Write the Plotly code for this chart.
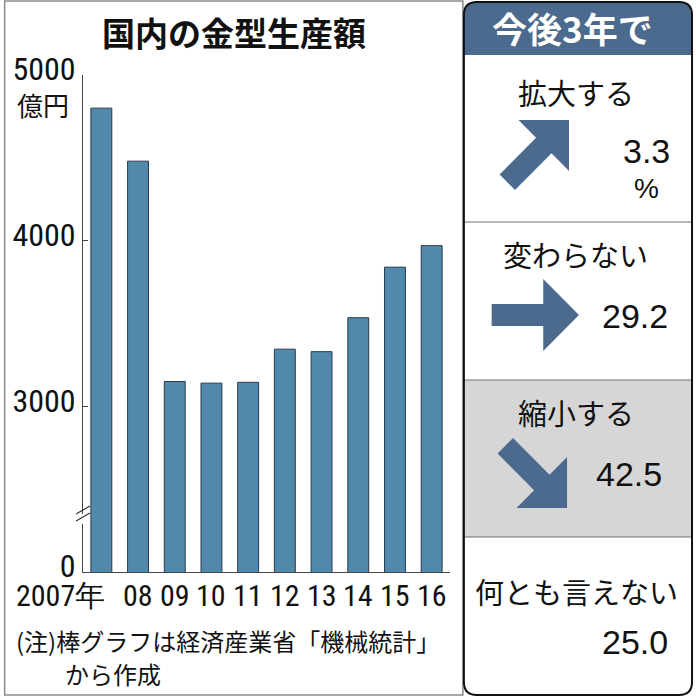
import math
import plotly.graph_objects as go

# ---- data ----
years = ["2007年", "08", "09", "10", "11", "12", "13", "14", "15", "16"]
values = [4800, 4480, 3150, 3140, 3145, 3345, 3330, 3535, 3840, 3970]
y_tickvals = [2000, 3000, 4000, 5000]
y_ticktext = ["0", "3000", "4000", "5000"]

survey_labels = ["拡大する", "変わらない", "縮小する", "何とも言えない"]
survey_values = ["3.3", "29.2", "42.5", "25.0"]

title_left = "国内の金型生産額"
title_right = "今後3年で"
unit_label = "億円"
note_lines = ["(注)棒グラフは経済産業省「機械統計」", "から作成"]

# ---- layout helpers (pixel -> paper) ----
W, H = 696, 697
L, R, T, B = 80, 450, 75, 572


def px(x):
    return (x - L) / (R - L)


def py(y):
    return (B - y) / (B - T)


def P(x, y):
    return f"{px(x):.5f},{py(y):.5f}"


CJK = "Noto Sans CJK JP, Noto Sans CJK SC, sans-serif"
NUM = "Liberation Sans, Arial, sans-serif"
NARROW = "Liberation Sans Narrow, Arial Narrow, Roboto Condensed, Liberation Sans, sans-serif"
BLUE = "#4b6a8d"

fig = go.Figure()
fig.add_trace(go.Bar(
    x=list(range(len(years))), y=values,
    marker=dict(color="#5189ad", line=dict(color="#2a3b4c", width=1)),
    width=0.57,
    hoverinfo="skip",
))

shapes = []
annotations = []

# left panel frame
shapes.append(dict(type="rect", xref="paper", yref="paper",
                   x0=px(1), x1=px(463), y0=py(1), y1=py(695),
                   line=dict(color="#8a8a8a", width=1.5), fillcolor="rgba(0,0,0,0)", layer="below"))

# axis break mark
shapes.append(dict(type="rect", xref="paper", yref="y", x0=px(76), x1=px(84), y0=2290, y1=2350,
                   line=dict(width=0), fillcolor="white", layer="above"))
for dy in (0, 7):
    shapes.append(dict(type="line", xref="paper", yref="paper",
                       x0=px(73), y0=py(514 + dy), x1=px(87), y1=py(506 + dy),
                       line=dict(color="#333", width=1.2)))

# right panel: gray section
shapes.append(dict(type="rect", xref="paper", yref="paper",
                   x0=px(464), x1=px(693), y0=py(380), y1=py(537),
                   line=dict(width=0), fillcolor="#d6d6d6", layer="below"))


def rounded_path(x0, y0, x1, y1, r, top_only=False):
    if top_only:
        s = f"M {P(x0, y1)} L {P(x0, y0 + r)} Q {P(x0, y0)} {P(x0 + r, y0)} "
        s += f"L {P(x1 - r, y0)} Q {P(x1, y0)} {P(x1, y0 + r)} L {P(x1, y1)} Z"
        return s
    s = f"M {P(x0 + r, y0)} L {P(x1 - r, y0)} Q {P(x1, y0)} {P(x1, y0 + r)} "
    s += f"L {P(x1, y1 - r)} Q {P(x1, y1)} {P(x1 - r, y1)} "
    s += f"L {P(x0 + r, y1)} Q {P(x0, y1)} {P(x0, y1 - r)} "
    s += f"L {P(x0, y0 + r)} Q {P(x0, y0)} {P(x0 + r, y0)} Z"
    return s


# header
shapes.append(dict(type="path", xref="paper", yref="paper",
                   path=rounded_path(464, 2, 693, 55, 12, top_only=True),
                   fillcolor=BLUE, line=dict(width=0)))
# separators
for yy in (222, 380, 537):
    shapes.append(dict(type="line", xref="paper", yref="paper",
                       x0=px(464), x1=px(693), y0=py(yy), y1=py(yy),
                       line=dict(color="#707070", width=1)))
# outer rounded border
shapes.append(dict(type="path", xref="paper", yref="paper",
                   path=rounded_path(464, 2, 694, 695, 13),
                   fillcolor="rgba(0,0,0,0)", line=dict(color="#111", width=2)))


def arrow_path(tx, ty, ang_deg, length=88, hl=36, hw=36, sw=11):
    a = math.radians(ang_deg)
    d = (math.cos(a), math.sin(a))
    n = (-math.sin(a), math.cos(a))
    local = [(-length, -sw), (-hl, -sw), (-hl, -hw), (0, 0), (-hl, hw), (-hl, sw), (-length, sw)]
    pts = [(tx + u * d[0] + v * n[0], ty + u * d[1] + v * n[1]) for u, v in local]
    return "M " + " L ".join(P(x, y) for x, y in pts) + " Z"


for tip, ang in [((570, 120), -45), ((580, 315), 0), ((568, 508), 45)]:
    shapes.append(dict(type="path", xref="paper", yref="paper",
                       path=arrow_path(tip[0], tip[1], ang),
                       fillcolor=BLUE, line=dict(width=0)))


def ann(text, x, y, size, family=CJK, color="#111", xanchor="center", bold=False):
    annotations.append(dict(text=f"<b>{text}</b>" if bold else text,
                            xref="paper", yref="paper", x=px(x), y=py(y),
                            xanchor=xanchor, yanchor="middle", showarrow=False,
                            font=dict(family=family, size=size, color=color)))


# left texts
ann(title_left, 232, 32, 33, bold=True)
ann(unit_label, 40, 105, 26)
ann(note_lines[0], 10, 640, 24, xanchor="left")
ann(note_lines[1], 60, 673, 24, xanchor="left")

# x labels under bars
for i, lab in enumerate(years):
    annotations.append(dict(text=lab, xref="x", yref="paper", x=i, y=py(595),
                            xanchor="right" if i == 0 else "center", xshift=6 if i == 0 else 0,
                            yanchor="middle", showarrow=False,
                            font=dict(family=NARROW, size=30, color="#111")))

# right texts
ann(title_right, 574, 28, 35, color="white", bold=True)
ann(survey_labels[0], 577, 92, 29)
ann(survey_values[0], 648, 151, 34, family=NUM)
ann("%", 648, 188, 28, family=NUM)
ann(survey_labels[1], 577, 254, 29)
ann(survey_values[1], 637, 316, 34, family=NUM)
ann(survey_labels[2], 577, 412, 29)
ann(survey_values[2], 630, 474, 34, family=NUM)
ann(survey_labels[3], 578, 591, 29)
ann(survey_values[3], 637, 642, 34, family=NUM)

fig.update_layout(
    width=W, height=H,
    margin=dict(l=L, r=W - R, t=T, b=H - B, pad=0),
    paper_bgcolor="white", plot_bgcolor="white",
    showlegend=False,
    bargap=0.43,
    xaxis=dict(range=[-0.5, 9.5], showticklabels=False, ticks="",
               showline=True, linecolor="#444", linewidth=1, showgrid=False, zeroline=False,
               fixedrange=True),
    yaxis=dict(range=[2000, 5000], tickvals=y_tickvals, ticktext=y_ticktext,
               ticks="inside", ticklen=5, tickcolor="#444", showline=True, linecolor="#444",
               linewidth=1, showgrid=False, zeroline=False, ticklabelshift=-6,
               tickfont=dict(family=NARROW, size=32, color="#111"), fixedrange=True),
    shapes=shapes,
    annotations=annotations,
)

fig.write_html("out.html", config={"displayModeBar": False},
               post_script="document.body.style.margin='0';")
